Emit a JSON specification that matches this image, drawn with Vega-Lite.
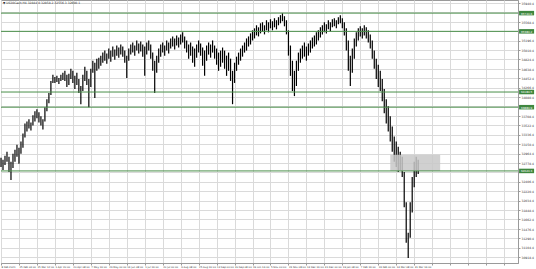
{
  "$schema": "https://vega.github.io/schema/vega-lite/v6.json",
  "autosize": {"type": "fit", "contains": "padding"},
  "width": 536,
  "height": 269,
  "padding": {"left": 0, "top": 0, "right": 1, "bottom": 0},
  "background": "white",
  "config": {
    "view": {"stroke": "#9a9a9a", "strokeWidth": 1},
    "font": "DejaVu Sans",
    "axis": {"grid": true, "gridColor": "#dadada", "gridWidth": 1, "domainColor": "#9a9a9a", "tickColor": "#9a9a9a", "labelColor": "#333333", "labelFontSize": 3, "tickSize": 2, "labelPadding": 1, "title": null, "labelOverlap": false, "labelFlush": false, "labelBound": false},
    "axisX": {"labelFontSize": 2.5},
    "axisY": {"labelFontSize": 3}
  },
  "title": {"text": "▼ US30Cash,H4  32844.0 32858.2 32556.3 32600.1", "anchor": "start", "frame": "group", "fontSize": 3, "fontWeight": "normal", "color": "#333333", "offset": -5, "dx": 2},
  "datasets": {
    "levels": [{"level": 35740.6}, {"level": 35380.2}, {"level": 34180.5}, {"level": 33880.9}, {"level": 32620.3}],
    "zone": [{"b1": 195, "b2": 220, "p1": 32940, "p2": 32620}],
    "bars": [
      {"b":0,"h":32880,"l":32700},{"b":1,"h":32840,"l":32640},{"b":2,"h":32920,"l":32740},{"b":3,"h":33000,"l":32800},{"b":4,"h":32900,"l":32600},
      {"b":5,"h":32800,"l":32440},{"b":6,"h":32960,"l":32680},{"b":7,"h":33040,"l":32800},{"b":8,"h":33140,"l":32900},{"b":9,"h":33080,"l":32760},
      {"b":10,"h":33200,"l":32960},{"b":11,"h":33360,"l":33080},{"b":12,"h":33560,"l":33280},{"b":13,"h":33600,"l":33400},{"b":14,"h":33640,"l":33460},
      {"b":15,"h":33580,"l":33420},{"b":16,"h":33720,"l":33520},{"b":17,"h":33800,"l":33600},{"b":18,"h":33840,"l":33660},{"b":19,"h":33780,"l":33580},
      {"b":20,"h":33700,"l":33520},{"b":21,"h":33640,"l":33440},{"b":22,"h":33880,"l":33600},{"b":23,"h":34040,"l":33800},{"b":24,"h":34160,"l":33960},
      {"b":25,"h":34400,"l":34120},{"b":26,"h":34520,"l":34360},{"b":27,"h":34480,"l":34360},{"b":28,"h":34500,"l":34380},{"b":29,"h":34460,"l":34340},
      {"b":30,"h":34520,"l":34400},{"b":31,"h":34560,"l":34420},{"b":32,"h":34600,"l":34400},{"b":33,"h":34520,"l":34280},{"b":34,"h":34540,"l":34320},
      {"b":35,"h":34640,"l":34440},{"b":36,"h":34600,"l":34360},{"b":37,"h":34500,"l":34240},{"b":38,"h":34560,"l":34320},{"b":39,"h":34440,"l":34160},
      {"b":40,"h":34300,"l":33940},{"b":41,"h":34520,"l":34200},{"b":42,"h":34680,"l":34400},{"b":43,"h":34600,"l":34320},{"b":44,"h":34440,"l":33880},
      {"b":45,"h":34640,"l":34280},{"b":46,"h":34800,"l":34560},{"b":47,"h":34760,"l":34060},{"b":48,"h":34840,"l":34600},{"b":49,"h":34860,"l":34640},
      {"b":50,"h":34900,"l":34700},{"b":51,"h":34960,"l":34760},{"b":52,"h":35000,"l":34800},{"b":53,"h":34940,"l":34740},{"b":54,"h":35040,"l":34840},
      {"b":55,"h":35000,"l":34780},{"b":56,"h":35080,"l":34880},{"b":57,"h":35020,"l":34820},{"b":58,"h":35100,"l":34900},{"b":59,"h":35060,"l":34860},
      {"b":60,"h":35120,"l":34920},{"b":61,"h":35080,"l":34880},{"b":62,"h":35000,"l":34760},{"b":63,"h":34900,"l":34460},{"b":64,"h":35040,"l":34800},
      {"b":65,"h":35120,"l":34920},{"b":66,"h":35160,"l":34960},{"b":67,"h":35100,"l":34900},{"b":68,"h":35200,"l":35000},{"b":69,"h":35140,"l":34940},
      {"b":70,"h":35180,"l":34980},{"b":71,"h":35120,"l":34880},{"b":72,"h":35080,"l":34500},{"b":73,"h":35160,"l":34920},{"b":74,"h":35200,"l":35000},
      {"b":75,"h":35120,"l":34840},{"b":76,"h":34960,"l":34600},{"b":77,"h":34800,"l":34160},{"b":78,"h":34900,"l":34560},{"b":79,"h":35040,"l":34760},
      {"b":80,"h":35120,"l":34880},{"b":81,"h":35160,"l":34960},{"b":82,"h":35100,"l":34900},{"b":83,"h":35200,"l":35000},{"b":84,"h":35160,"l":34940},
      {"b":85,"h":35240,"l":35040},{"b":86,"h":35280,"l":35080},{"b":87,"h":35240,"l":35020},{"b":88,"h":35300,"l":35100},{"b":89,"h":35260,"l":35060},
      {"b":90,"h":35320,"l":35120},{"b":91,"h":35360,"l":35160},{"b":92,"h":35280,"l":35040},{"b":93,"h":35200,"l":34960},{"b":94,"h":35120,"l":34840},
      {"b":95,"h":35160,"l":34900},{"b":96,"h":35080,"l":34760},{"b":97,"h":35040,"l":34680},{"b":98,"h":35120,"l":34860},{"b":99,"h":35200,"l":34960},
      {"b":100,"h":35140,"l":34900},{"b":101,"h":35060,"l":34700},{"b":102,"h":35000,"l":34500},{"b":103,"h":35100,"l":34800},{"b":104,"h":35160,"l":34920},
      {"b":105,"h":35120,"l":34860},{"b":106,"h":35200,"l":34960},{"b":107,"h":35100,"l":34840},{"b":108,"h":35040,"l":34720},{"b":109,"h":34960,"l":34600},
      {"b":110,"h":35000,"l":34680},{"b":111,"h":35060,"l":34760},{"b":112,"h":35000,"l":34640},{"b":113,"h":34900,"l":34500},{"b":114,"h":34960,"l":34600},
      {"b":115,"h":34840,"l":34400},{"b":116,"h":34600,"l":33940},{"b":117,"h":34760,"l":34360},{"b":118,"h":34880,"l":34600},{"b":119,"h":34960,"l":34720},
      {"b":120,"h":35040,"l":34800},{"b":121,"h":35100,"l":34880},{"b":122,"h":35160,"l":34960},{"b":123,"h":35240,"l":35000},{"b":124,"h":35280,"l":35080},
      {"b":125,"h":35340,"l":35120},{"b":126,"h":35400,"l":35200},{"b":127,"h":35440,"l":35240},{"b":128,"h":35500,"l":35300},{"b":129,"h":35460,"l":35280},
      {"b":130,"h":35540,"l":35340},{"b":131,"h":35560,"l":35380},{"b":132,"h":35500,"l":35320},{"b":133,"h":35600,"l":35400},{"b":134,"h":35560,"l":35360},
      {"b":135,"h":35620,"l":35440},{"b":136,"h":35580,"l":35400},{"b":137,"h":35640,"l":35460},{"b":138,"h":35600,"l":35420},{"b":139,"h":35660,"l":35500},
      {"b":140,"h":35700,"l":35540},{"b":141,"h":35740,"l":35580},{"b":142,"h":35680,"l":35480},{"b":143,"h":35600,"l":35320},{"b":144,"h":35400,"l":34900},
      {"b":145,"h":35100,"l":34500},{"b":146,"h":34800,"l":34200},{"b":147,"h":34600,"l":34100},{"b":148,"h":34800,"l":34300},{"b":149,"h":34960,"l":34600},
      {"b":150,"h":35040,"l":34760},{"b":151,"h":35100,"l":34840},{"b":152,"h":35160,"l":34880},{"b":153,"h":35080,"l":34800},{"b":154,"h":35140,"l":34900},
      {"b":155,"h":35200,"l":34960},{"b":156,"h":35260,"l":35040},{"b":157,"h":35300,"l":35080},{"b":158,"h":35360,"l":35120},{"b":159,"h":35400,"l":35200},
      {"b":160,"h":35460,"l":35260},{"b":161,"h":35500,"l":35320},{"b":162,"h":35560,"l":35360},{"b":163,"h":35520,"l":35340},{"b":164,"h":35600,"l":35420},
      {"b":165,"h":35560,"l":35380},{"b":166,"h":35620,"l":35460},{"b":167,"h":35640,"l":35480},{"b":168,"h":35600,"l":35440},{"b":169,"h":35660,"l":35520},
      {"b":170,"h":35700,"l":35540},{"b":171,"h":35640,"l":35440},{"b":172,"h":35560,"l":35300},{"b":173,"h":35440,"l":35000},{"b":174,"h":35200,"l":34600},
      {"b":175,"h":34900,"l":34300},{"b":176,"h":35040,"l":34560},{"b":177,"h":35240,"l":34840},{"b":178,"h":35360,"l":35080},{"b":179,"h":35440,"l":35200},
      {"b":180,"h":35480,"l":35280},{"b":181,"h":35440,"l":35240},{"b":182,"h":35500,"l":35300},{"b":183,"h":35460,"l":35240},{"b":184,"h":35400,"l":35160},
      {"b":185,"h":35320,"l":35040},{"b":186,"h":35200,"l":34840},{"b":187,"h":35000,"l":34640},{"b":188,"h":34840,"l":34440},{"b":189,"h":34720,"l":34280},
      {"b":190,"h":34600,"l":34200},{"b":191,"h":34440,"l":34000},{"b":192,"h":34240,"l":33760},{"b":193,"h":34040,"l":33560},{"b":194,"h":33900,"l":33400},
      {"b":195,"h":33700,"l":33200},{"b":196,"h":33500,"l":33000},{"b":197,"h":33300,"l":32800},{"b":198,"h":33200,"l":32700},{"b":199,"h":33100,"l":32600},
      {"b":200,"h":33000,"l":32640},{"b":201,"h":32900,"l":32500},{"b":202,"h":32600,"l":31900},{"b":203,"h":32000,"l":31200},{"b":204,"h":31400,"l":30900},
      {"b":205,"h":32000,"l":31300},{"b":206,"h":32500,"l":31800},{"b":207,"h":32800,"l":32300},{"b":208,"h":32900,"l":32500},{"b":209,"h":32840,"l":32560}
    ]
  },
  "layer": [
    {
      "data": {"name": "bars"},
      "mark": {"type": "rule", "color": "#000000", "strokeWidth": 1.2},
      "encoding": {
        "x": {"field": "b", "type": "quantitative", "scale": {"domain": [0, 259], "nice": false, "zero": false},
          "axis": {"tickCount": 200, "values": [0,9,18,27,36,45,54,63,72,81,90,99,108,117,126,135,144,153,162,171,180,189,198,207,216,225,234,243,252], "labelAlign": "left", "labelOverlap": false, "labelExpr": "datum.value / 9 < 24 ? ['8 Feb 2021','25 Feb 04:00','15 Mar 12:00','1 Apr 20:00','20 Apr 08:00','7 May 16:00','26 May 00:00','14 Jun 08:00','1 Jul 16:00','20 Jul 00:00','6 Aug 08:00','25 Aug 16:00','13 Sep 00:00','30 Sep 08:00','19 Oct 16:00','5 Nov 00:00','24 Nov 08:00','13 Dec 16:00','31 Dec 00:00','19 Jan 08:00','7 Feb 16:00','24 Feb 00:00','14 Mar 08:00','31 Mar 16:00'][datum.value / 9] : ''"}},
        "y": {"field": "h", "type": "quantitative", "scale": {"domain": [30800, 36000], "nice": false, "zero": false},
          "axis": {"orient": "right", "tickCount": 200, "labelOverlap": false, "values": [35940.4,35754.4,35568.4,35382.4,35196.4,35010.4,34824.4,34638.4,34452.4,34266.4,34080.4,33894.4,33708.4,33522.4,33336.4,33150.4,32964.4,32778.4,32592.4,32406.4,32220.4,32034.4,31848.4,31662.4,31476.4,31290.4,31104.4,30918.4], "labelExpr": "(abs(datum.value - 35740.6) < 60 || abs(datum.value - 35380.2) < 60 || abs(datum.value - 33880.9) < 60 || abs(datum.value - 32620.3) < 60) ? '' : format(datum.value, '.1f')"}},
        "y2": {"field": "l"}
      }
    },
    {
      "data": {"name": "zone"},
      "mark": {"type": "rect", "color": "#c8c8c8", "opacity": 0.85},
      "encoding": {
        "x": {"field": "b1", "type": "quantitative"},
        "x2": {"field": "b2"},
        "y": {"field": "p1", "type": "quantitative"},
        "y2": {"field": "p2"}
      }
    },
    {
      "data": {"name": "levels"},
      "mark": {"type": "rule", "color": "#4a8f4a", "strokeWidth": 1},
      "encoding": {"y": {"field": "level", "type": "quantitative"}}
    },
    {
      "data": {"name": "levels"},
      "mark": {"type": "tick", "orient": "horizontal", "color": "#3f873f", "opacity": 1, "size": 15, "thickness": 4.5},
      "encoding": {"x": {"datum": 263.3, "type": "quantitative"}, "y": {"field": "level", "type": "quantitative"}}
    },
    {
      "data": {"name": "levels"},
      "mark": {"type": "text", "color": "white", "fontSize": 2.8, "align": "center", "baseline": "middle"},
      "encoding": {"x": {"datum": 263.3, "type": "quantitative"}, "y": {"field": "level", "type": "quantitative"}, "text": {"field": "level", "type": "quantitative", "format": ".1f"}}
    }
  ]
}
